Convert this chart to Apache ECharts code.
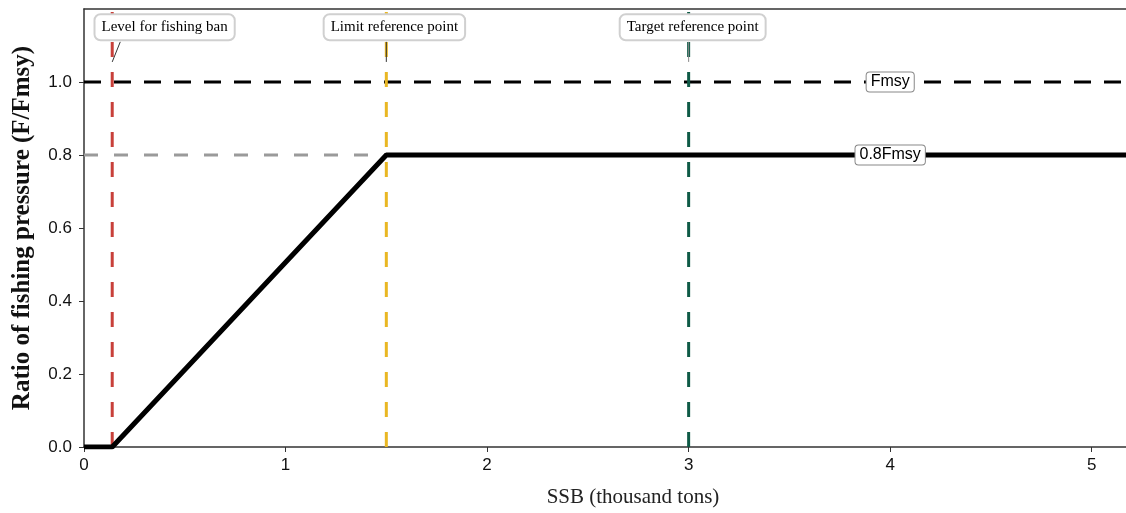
<!DOCTYPE html>
<html>
<head>
<meta charset="utf-8">
<script src="https://cdn.jsdelivr.net/npm/echarts@6/dist/echarts.min.js"></script>
<style>
  html, body { margin: 0; padding: 0; background: #fff; }
  #chart { width: 1126px; height: 513px; }
</style>
</head>
<body>
<div id="chart"></div>
<script>
// 轴范围
const xMax = 5.17
const yMax = 1.2
const xTicks = [0, 1, 2, 3, 4, 5]
const yTicks = [0, 0.2, 0.4, 0.6, 0.8, 1.0]

// 控制规则折线 (SSB, F/Fmsy)
const hcrLine = [[0, 0], [0.14, 0], [1.5, 0.8], [xMax, 0.8]]
const fmsyLine = [[0, 1.0], [xMax, 1.0]]
const f08Line = [[0, 0.8], [1.5, 0.8]]

// 参考点
const refNames = ['Level for fishing ban', 'Limit reference point', 'Target reference point']
const refX = [0.14, 1.5, 3.0]
const refColors = ['#C8403A', '#E9B723', '#0E5A46']
const labelX = [0.4, 1.54, 3.02]
const labelY = 1.15
const leaderFrom = [[0.18, 1.11], [1.5, 1.11], [3.0, 1.11]]
const leaderTo = [[0.14, 1.055], [1.5, 1.055], [3.0, 1.055]]
const leaderColors = ['#333', '#333', '#888']

// 线上标签
const lineLabels = ['Fmsy', '0.8Fmsy']
const lineLabelPos = [[4.0, 1.0], [4.0, 0.8]]

const serif = '"Liberation Serif", "Times New Roman", serif'
const sans = '"Liberation Sans", Arial, sans-serif'

let myChart = echarts.init(document.getElementById('chart'))

// 文字框, 用 custom 系列画在最上层
function boxSeries(names, pos, font, border, bw, radius, pad) {
  return {
    type: 'custom',
    z: 10,
    data: names.map((n, i) => [pos[i][0], pos[i][1], n]),
    renderItem: (params, api) => {
      const pt = api.coord([api.value(0), api.value(1)])
      return {
        type: 'text',
        x: pt[0],
        y: pt[1],
        z2: 100,
        style: {
          text: names[params.dataIndex],
          font: font,
          fill: '#000',
          align: 'center',
          verticalAlign: 'middle',
          backgroundColor: '#fff',
          borderColor: border,
          borderWidth: bw,
          borderRadius: radius,
          padding: pad,
        },
      }
    },
  }
}

let series = [
  {
    type: 'line',
    data: f08Line,
    symbol: 'none',
    lineStyle: { color: '#9a9a9a', width: 3, type: [14, 16] },
    z: 2,
  },
  {
    type: 'line',
    data: fmsyLine,
    symbol: 'none',
    lineStyle: { color: '#000', width: 3, type: [17, 13] },
    z: 2,
  },
]

refX.forEach((x, i) => {
  series.push({
    type: 'line',
    data: [[x, 0], [x, yMax]],
    symbol: 'none',
    lineStyle: { color: refColors[i], width: 3, type: [15, 15] },
    z: 3,
  })
  series.push({
    type: 'line',
    data: [leaderFrom[i], leaderTo[i]],
    symbol: 'none',
    lineStyle: { color: leaderColors[i], width: 1 },
    z: 4,
  })
})

series.push({
  type: 'line',
  data: hcrLine,
  symbol: 'none',
  lineStyle: { color: '#000', width: 5 },
  z: 5,
})

series.push(
  boxSeries(
    refNames,
    labelX.map((x) => [x, labelY]),
    '15px ' + serif,
    '#d0d0d0', 2, 5, [5, 6, 4, 6]
  )
)
series.push(
  boxSeries(lineLabels, lineLabelPos, '16px ' + sans, '#888', 1, 3, [2, 4, 1, 4])
)

let option = {
  animation: false,
  grid: { left: 84, right: 0, top: 9, bottom: 64 },
  xAxis: [
    {
      type: 'value',
      min: 0,
      max: xMax,
      interval: 1,
      name: 'SSB (thousand tons)',
      nameLocation: 'middle',
      nameGap: 40,
      nameTextStyle: { fontFamily: serif, fontSize: 21, color: '#222', padding: [0, 0, 0, 56] },
      axisLine: { lineStyle: { color: '#333', width: 1.5 } },
      axisTick: { show: true, length: 5, customValues: xTicks, lineStyle: { color: '#333' } },
      axisLabel: {
        fontFamily: sans,
        fontSize: 17,
        color: '#111',
        margin: 10,
        customValues: xTicks,
      },
      splitLine: { show: false },
    },
    {
      type: 'value',
      position: 'top',
      min: 0,
      max: xMax,
      axisLine: { show: true, onZero: false, lineStyle: { color: '#333', width: 1.5 } },
      axisTick: { show: false },
      axisLabel: { show: false },
      splitLine: { show: false },
    },
  ],
  yAxis: {
    type: 'value',
    min: 0,
    max: yMax,
    interval: 0.2,
    name: 'Ratio of fishing pressure (F/Fmsy)',
    nameLocation: 'middle',
    nameGap: 49,
    nameTextStyle: { fontFamily: serif, fontSize: 25, fontWeight: 'bold', color: '#111' },
    axisLine: { show: true, lineStyle: { color: '#333', width: 1.5 } },
    axisTick: { show: true, length: 5, customValues: yTicks, lineStyle: { color: '#333' } },
    axisLabel: {
      fontFamily: sans,
      fontSize: 17,
      color: '#111',
      margin: 12,
      customValues: yTicks,
      formatter: (v) => v.toFixed(1),
    },
    splitLine: { show: false },
  },
  series: series,
}

myChart.setOption(option)
</script>
</body>
</html>
